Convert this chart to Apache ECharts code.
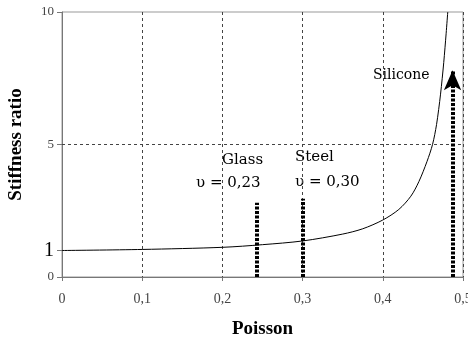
<!DOCTYPE html>
<html>
<head>
<meta charset="utf-8">
<script src="https://cdn.jsdelivr.net/npm/echarts@6/dist/echarts.min.js"></script>
<style>
  html, body { margin: 0; padding: 0; background: #fff; }
  #chart { width: 468px; height: 338px; }
</style>
</head>
<body>
<div id="chart"></div>
<script>
// curve
var poisson = [0, 0.1, 0.2, 0.25, 0.3, 0.35, 0.375, 0.4, 0.42, 0.435, 0.445, 0.455, 0.462, 0.467, 0.472, 0.476, 0.479, 0.481];
var stiffness = [1, 1.04, 1.12, 1.22, 1.36, 1.62, 1.82, 2.15, 2.55, 3.05, 3.6, 4.35, 5.0, 5.75, 6.9, 8.1, 9.2, 10];

// dotted markers: position and height
var materials = ['Glass', 'Steel', 'Silicone'];
var markerX = [0.243, 0.30, 0.487];
var markerTop = [2.8, 2.95, 7.8];
var yTicks = [0, 1, 5, 10];

var curve = poisson.map(function(x, i){ return [x, stiffness[i]]; });

var dotted = { color: '#000', width: 4, type: [3, 1.5], cap: 'butt' };
var markerLines = materials.map(function(m, i){
  return [
    { coord: [markerX[i], 0], symbol: 'none' },
    { coord: [markerX[i], markerTop[i]], symbol: m == 'Silicone' ? 'arrow' : 'none', symbolSize: [13, 20] }
  ];
});

var serif = '"Liberation Serif", "DejaVu Serif", serif';
var wide = '"DejaVu Serif", serif';

var chart = echarts.init(document.getElementById('chart'));
chart.setOption({
  animation: false,
  grid: { left: 62, right: 5, top: 12, bottom: 61, show: true, borderColor: '#999', borderWidth: 1, outerBoundsMode: 'none' },
  xAxis: {
    type: 'value', min: 0, max: 0.5, interval: 0.1,
    name: 'Poisson', nameLocation: 'middle', nameGap: 43,
    nameTextStyle: { fontFamily: serif, fontWeight: 'bold', fontSize: 19, color: '#000' },
    axisLine: { lineStyle: { color: '#777' } },
    axisTick: { length: 4, lineStyle: { color: '#777' } },
    axisLabel: {
      fontFamily: serif, fontSize: 14, color: '#444', margin: 15,
      formatter: function(v){ return v == 0 ? '0' : v.toFixed(1).replace('.', ','); }
    },
    splitLine: { show: true, lineStyle: { color: '#444', type: [3, 3] } }
  },
  yAxis: {
    type: 'value', min: 0, max: 10,
    name: 'Stiffness ratio', nameLocation: 'middle', nameGap: 36, nameRotate: 90,
    nameTextStyle: { fontFamily: serif, fontWeight: 'bold', fontSize: 19, color: '#000' },
    axisLine: { show: true, lineStyle: { color: '#777' } },
    axisTick: { show: true, length: 5, customValues: yTicks, lineStyle: { color: '#777' } },
    axisLabel: {
      customValues: yTicks, margin: 8,
      formatter: function(v){ return v == 1 ? '{big|1}' : '{n|' + v + '}'; },
      rich: {
        n: { fontFamily: serif, fontSize: 13, color: '#444' },
        big: { fontFamily: serif, fontSize: 20, color: '#000' }
      }
    },
    splitLine: { show: false }
  },
  series: [
    {
      type: 'line', data: curve, smooth: 0.3, showSymbol: false,
      lineStyle: { color: '#000', width: 1 },
      markLine: {
        silent: true, symbol: 'none', label: { show: false },
        lineStyle: { color: '#444', width: 1, type: [3, 3] },
        data: [{ yAxis: 5 }]
      },
      z: 3
    },
    {
      type: 'line', data: [],
      markLine: {
        silent: true, label: { show: false },
        lineStyle: dotted,
        itemStyle: { color: '#000' },
        data: markerLines
      },
      z: 4
    }
  ],
  graphic: [
    { type: 'text', left: 222, top: 153, style: { text: 'Glass', font: '15px ' + wide, fill: '#000' } },
    { type: 'text', left: 196, top: 176, style: { text: 'υ = 0,23', font: '15px ' + wide, fill: '#000' } },
    { type: 'text', left: 295, top: 150, style: { text: 'Steel', font: '15px ' + wide, fill: '#000' } },
    { type: 'text', left: 295, top: 175, style: { text: 'υ = 0,30', font: '15px ' + wide, fill: '#000' } },
    { type: 'text', left: 373, top: 68, style: { text: 'Silicone', font: '14px ' + wide, fill: '#000' } }
  ]
});
</script>
</body>
</html>
